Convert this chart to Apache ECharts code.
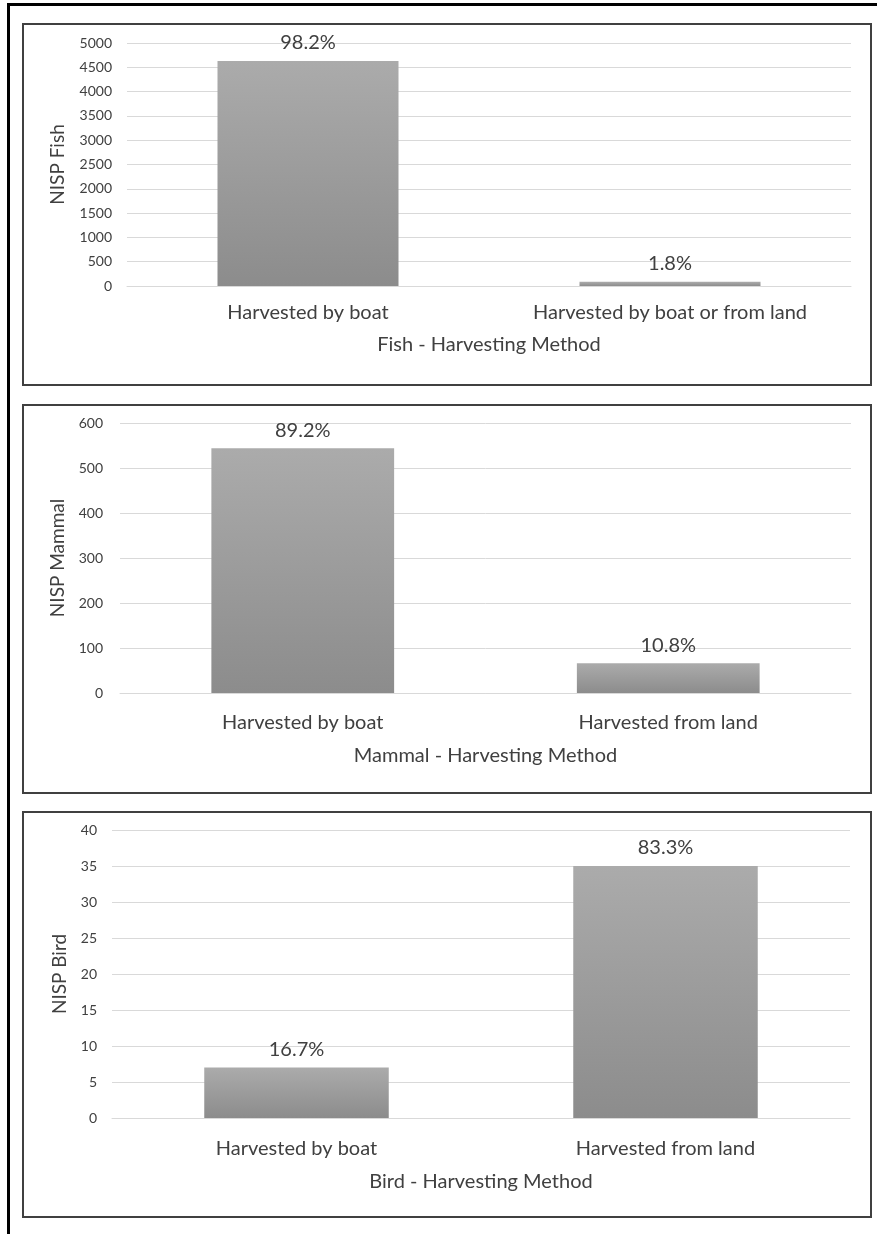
<!DOCTYPE html>
<html>
<head>
<meta charset="utf-8">
<script src="https://cdn.jsdelivr.net/npm/echarts@6/dist/echarts.min.js"></script>
<style>
html,body{margin:0;padding:0;background:#fff;}
#c{width:877px;height:1234px;}
</style>
</head>
<body>
<div id="c"></div>
<script>
// ---- data ----
var fishCategories = ['Harvested by boat', 'Harvested by boat or from land'];
var fishValues = [4632, 85];
var fishLabels = ['98.2%', '1.8%'];

var mammalCategories = ['Harvested by boat', 'Harvested from land'];
var mammalValues = [544, 66];
var mammalLabels = ['89.2%', '10.8%'];

var birdCategories = ['Harvested by boat', 'Harvested from land'];
var birdValues = [7, 35];
var birdLabels = ['16.7%', '83.3%'];

var axisTitles = ['Fish - Harvesting Method', 'Mammal - Harvesting Method', 'Bird - Harvesting Method'];
var yTitles = ['NISP Fish', 'NISP Mammal', 'NISP Bird'];

// ---- style ----
var FONT = 'Lato';
var TXT = '#404040';
var barColor = new echarts.graphic.LinearGradient(0, 0, 0, 1, [
  {offset: 0, color: '#ababab'},
  {offset: 1, color: '#8c8c8c'}
]);

var grids = [
  {left: 127, right: 26, top: 43, height: 243},
  {left: 120, right: 26, top: 423, height: 270},
  {left: 112, right: 27, top: 830, height: 288}
];
var yAxisCfg = [
  {max: 5000, interval: 500, margin: 15, nameGap: 60},
  {max: 600, interval: 100, margin: 17, nameGap: 51},
  {max: 40, interval: 5, margin: 15, nameGap: 42}
];
var xAxisCfg = [
  {margin: 17, nameGap: 49},
  {margin: 20, nameGap: 53},
  {margin: 21, nameGap: 54}
];
var cats = [fishCategories, mammalCategories, birdCategories];
var vals = [fishValues, mammalValues, birdValues];
var labs = [fishLabels, mammalLabels, birdLabels];

var xAxes = [], yAxes = [], series = [];
for (var i = 0; i < 3; i++) {
  xAxes.push({
    type: 'category', gridIndex: i, data: cats[i],
    axisTick: {show: false},
    axisLine: {lineStyle: {color: '#d9d9d9', width: 1}},
    axisLabel: {color: TXT, fontFamily: FONT, fontSize: 20, margin: xAxisCfg[i].margin},
    name: axisTitles[i], nameLocation: 'middle', nameGap: xAxisCfg[i].nameGap,
    nameTextStyle: {color: TXT, fontFamily: FONT, fontSize: 20}
  });
  yAxes.push({
    type: 'value', gridIndex: i, min: 0, max: yAxisCfg[i].max, interval: yAxisCfg[i].interval,
    axisLine: {show: false}, axisTick: {show: false},
    splitLine: {lineStyle: {color: '#d9d9d9', width: 1}},
    axisLabel: {color: TXT, fontFamily: FONT, fontSize: 14, margin: yAxisCfg[i].margin,
      formatter: function(v){ return String(v); }},
    name: yTitles[i], nameLocation: 'middle', nameGap: yAxisCfg[i].nameGap,
    nameTextStyle: {color: TXT, fontFamily: FONT, fontSize: 19}
  });
  (function(idx){
    series.push({
      type: 'bar', xAxisIndex: idx, yAxisIndex: idx, data: vals[idx],
      barWidth: '50%',
      itemStyle: {color: barColor},
      label: {
        show: true, position: 'top', distance: 8,
        color: TXT, fontFamily: FONT, fontSize: 20,
        formatter: function(p){ return labs[idx][p.dataIndex]; }
      },
      silent: true, animation: false
    });
  })(i);
}

var chart = echarts.init(document.getElementById('c'), null, {renderer: 'canvas'});
chart.setOption({
  animation: false,
  backgroundColor: '#ffffff',
  grid: grids,
  xAxis: xAxes,
  yAxis: yAxes,
  series: series,
  graphic: [
    {type: 'rect', shape: {x: 8.5, y: 4.5, width: 900, height: 1300}, style: {fill: 'none', stroke: '#000', lineWidth: 3}, z: 100},
    {type: 'rect', shape: {x: 23, y: 24, width: 848, height: 361}, style: {fill: 'none', stroke: '#404040', lineWidth: 2}, z: 100},
    {type: 'rect', shape: {x: 23, y: 405, width: 848, height: 388}, style: {fill: 'none', stroke: '#404040', lineWidth: 2}, z: 100},
    {type: 'rect', shape: {x: 23, y: 812, width: 848, height: 405}, style: {fill: 'none', stroke: '#404040', lineWidth: 2}, z: 100}
  ]
});
</script>
</body>
</html>
